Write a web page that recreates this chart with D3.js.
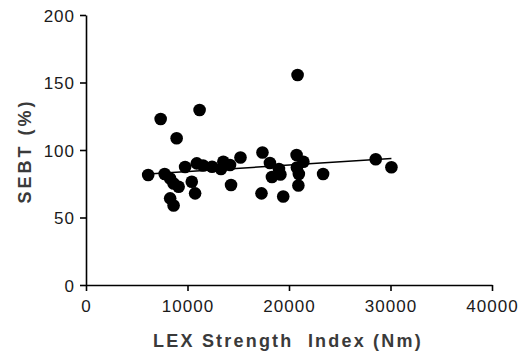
<!DOCTYPE html>
<html>
<head>
<meta charset="utf-8">
<script src="https://cdn.jsdelivr.net/npm/d3@7"></script>
<style>
  body { margin: 0; background: #fff; }
  .tick text { font-family: Arial, "Liberation Sans", sans-serif; font-size: 17px; letter-spacing: 1px; fill: #1a1a1a; }
  .axis-title { font-family: Arial, "Liberation Sans", sans-serif; font-size: 18px; font-weight: bold; fill: #3a3a3a; white-space: pre; }
</style>
</head>
<body>
<div id="chart"></div>
<script>
// LEX strength index (Nm) and SEBT (%) for each subject
const strength = [
  6126, 7355, 8930, 11190, 7750, 8290, 8630, 9125, 9765, 10420,
  10750, 8290, 8630, 10915, 11535, 12420, 13530, 13300, 14190, 15220,
  14290, 17385, 18120, 19010, 18320, 19155, 17290, 19430, 20845, 20750,
  21420, 20780, 20970, 20925, 23360, 28545, 30090
];
const sebt = [
  81.5, 123, 108.7, 129.6, 82.2, 78.9, 75.2, 72.8, 87.4, 76.5,
  67.9, 64.2, 58.9, 90.1, 88.5, 87.6, 91.3, 85.9, 88.9, 94.4,
  74.1, 98.1, 90.4, 85.9, 80, 81.9, 67.9, 65.6, 155.6, 96.3,
  91.3, 87, 82.2, 73.7, 82.2, 93.1, 87.2
];
const xTicks = [0, 10000, 20000, 30000, 40000];
const yTicks = [0, 50, 100, 150, 200];

// linear fit
const fitIntercept = 79.2;
const fitSlope = 0.00048;

const data = strength.map((s, i) => ({ x: s, y: sebt[i] }));

const margin = { top: 15, right: 35, bottom: 73, left: 86 },
  width = 527 - margin.left - margin.right,
  height = 358 - margin.top - margin.bottom;

const svg = d3
  .select("#chart")
  .append("svg")
  .attr("width", 527)
  .attr("height", 358)
  .append("g")
  .attr("transform", `translate(${margin.left},${margin.top})`);

const x = d3.scaleLinear().domain([0, 40000]).range([0, width]);
const y = d3.scaleLinear().domain([0, 200]).range([height, 0]);

// x axis
const xAxis = svg
  .append("g")
  .attr("transform", `translate(0,${height})`)
  .call(d3.axisBottom(x).tickValues(xTicks).tickFormat(d3.format("d")).tickSize(6).tickSizeOuter(0).tickPadding(4));

// y axis
const yAxis = svg
  .append("g")
  .call(d3.axisLeft(y).tickValues(yTicks).tickSize(6).tickSizeOuter(0).tickPadding(5));

[xAxis, yAxis].forEach((g) => {
  g.select(".domain").attr("stroke", "#000").attr("stroke-width", 1.6);
  g.selectAll(".tick line").attr("stroke", "#000").attr("stroke-width", 1.6);
});
xAxis.selectAll(".tick text").attr("dy", "1.0em");
yAxis.selectAll(".tick text").attr("dy", "0.36em");

// axis titles
svg
  .append("text")
  .attr("class", "axis-title")
  .attr("x", 202)
  .attr("y", height + 62)
  .style("text-anchor", "middle")
  .style("letter-spacing", "2.2px")
  .text("LEX Strength  Index (Nm)");

svg
  .append("text")
  .attr("class", "axis-title")
  .attr("transform", "rotate(-90)")
  .attr("x", -(y(100) + 1))
  .attr("y", -55)
  .style("text-anchor", "middle")
  .style("letter-spacing", "3px")
  .text("SEBT (%)");

// fit line across the data range
const xMin = d3.min(strength), xMax = d3.max(strength);
svg
  .append("line")
  .attr("x1", x(xMin))
  .attr("y1", y(fitIntercept + fitSlope * xMin))
  .attr("x2", x(xMax))
  .attr("y2", y(fitIntercept + fitSlope * xMax))
  .attr("stroke", "#000")
  .attr("stroke-width", 1.5);

// points
svg
  .selectAll(".dot")
  .data(data)
  .enter()
  .append("circle")
  .attr("class", "dot")
  .attr("cx", (d) => x(d.x))
  .attr("cy", (d) => y(d.y))
  .attr("r", 6.3)
  .attr("fill", "#000");
</script>
</body>
</html>
